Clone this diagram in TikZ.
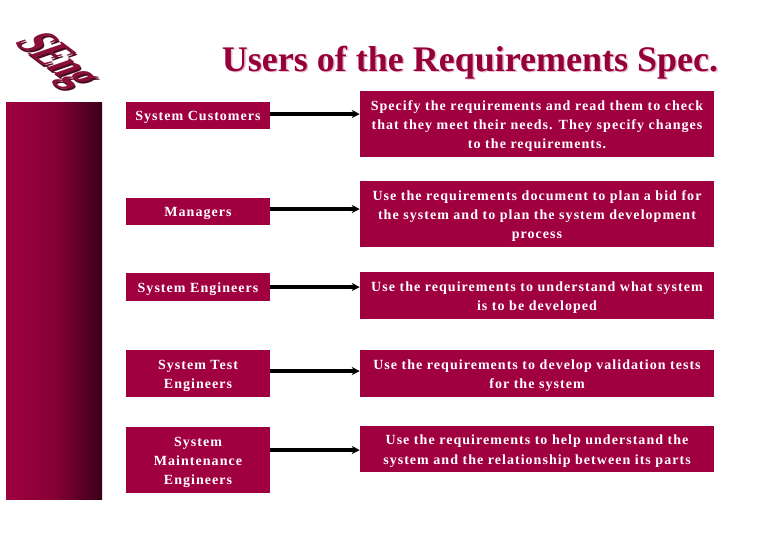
\documentclass[tikz,border=0pt]{standalone}
\usepackage{fontspec}
\usetikzlibrary{arrows.meta}
\setmainfont{Liberation Serif}
\newfontfamily\boxfont[LetterSpace=7.4]{Liberation Serif}
\definecolor{wine}{HTML}{A00040}
\definecolor{winetitle}{HTML}{960038}
\definecolor{winedark}{HTML}{3A0018}
\definecolor{logofront}{HTML}{8A1038}
\definecolor{logoside}{HTML}{4A0A20}
\newcommand{\sk}{\rule{0pt}{10.5pt}}
\tikzset{
  rolebox/.style={fill=wine,text=white,font=\boxfont\bfseries\fontsize{10.5}{14.3}\selectfont,align=center,
    inner sep=0pt,minimum width=108pt},
  usebox/.style={fill=wine,text=white,font=\boxfont\bfseries\fontsize{10.5}{14.3}\selectfont,align=center,
    inner sep=0pt,minimum width=265.5pt},
  titletext/.style={font=\bfseries\fontsize{27}{27}\selectfont},
  logotext/.style={transform shape,cm={0.74,-0.56,1.45,0.5,(0,0)},font=\bfseries\fontsize{27}{27}\selectfont},
  link/.style={-{Stealth[length=6pt,width=6pt]},line width=2.8pt,black}
}
\begin{document}
\begin{tikzpicture}[x=0.75pt,y=-0.75pt]
  \useasboundingbox (0,0) rectangle (780,540);
  \shade[left color=wine,right color=winedark,middle color=wine!75!winedark] (6,102) rectangle (102,499);

  \node[text=wine!25!white,titletext] (shadow) at (471.5,63.5) {Users of the Requirements Spec.};
  \node[text=winetitle,titletext] (title) at (470,62.5) {Users of the Requirements Spec.};
  \node[text=logoside,logotext] (logoback) at (56,63) {SEng};
  \node[text=logofront,logotext] (logo) at (55,61) {SEng};

  \node[rolebox,minimum height=20.25pt] (c1) at (198,115.5) {\sk System Customers};
  \node[rolebox,minimum height=20.25pt] (c2) at (198,211.5) {\sk Managers};
  \node[rolebox,minimum height=21pt] (c3) at (198,287) {\sk System Engineers};
  \node[rolebox,minimum height=35pt] (c4) at (198,373.5) {\sk System Test\\[0.6pt]Engineers};
  \node[rolebox,minimum height=49.5pt] (c5) at (198,460) {\sk System\\Maintenance\\Engineers};

  \node[usebox,minimum height=49.5pt] (d1) at (537,124) {\sk Specify the requirements and read them to check\\that they meet their needs. They specify changes\\to the requirements.};
  \node[usebox,minimum height=49.5pt] (d2) at (537,214) {\sk Use the requirements document to plan a bid for\\the system and to plan the system development\\process};
  \node[usebox,minimum height=35pt] (d3) at (537,295.5) {\sk Use the requirements to understand what system\\[0.6pt]is to be developed};
  \node[usebox,minimum height=35pt] (d4) at (537,373.5) {\sk Use the requirements to develop validation tests\\[0.6pt]for the system};
  \node[usebox,minimum height=34.5pt] (d5) at (537,449) {\sk Use the requirements to help understand the\\system and the relationship between its parts};

  \coordinate (a1) at (270,114);
  \coordinate (a2) at (270,209);
  \coordinate (a3) at (270,287);
  \coordinate (a4) at (270,371);
  \coordinate (a5) at (270,450);

  \path[link] (a1) edge (a1 -| d1.west)
              (a2) edge (a2 -| d2.west)
              (a3) edge (a3 -| d3.west)
              (a4) edge (a4 -| d4.west)
              (a5) edge (a5 -| d5.west);
\end{tikzpicture}
\end{document}
